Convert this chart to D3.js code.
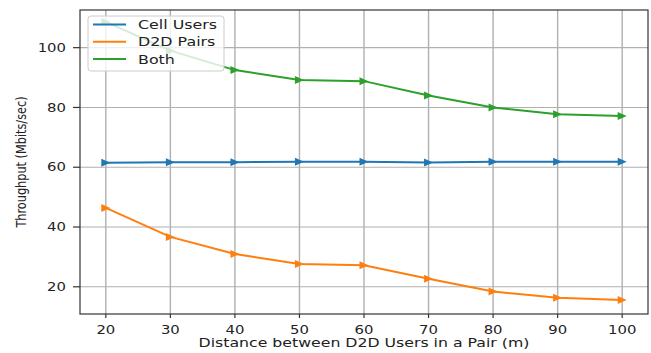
<!DOCTYPE html>
<html>
<head>
<meta charset="utf-8">
<script src="https://cdn.jsdelivr.net/npm/d3@7"></script>
<style>
  body { margin: 0; background: #fff; }
  text { font-family: "DejaVu Sans", sans-serif; fill: #222; }
</style>
</head>
<body>
<svg id="chart" width="651" height="353"></svg>
<script>
// distances (m) along the x axis
var distances = [20, 30, 40, 50, 60, 70, 80, 90, 100];

// throughput per series, Mbits/sec
var cellUsers = [61.5, 61.7, 61.7, 61.8, 61.8, 61.6, 61.8, 61.8, 61.8];
var d2dPairs  = [46.4, 36.7, 31.0, 27.6, 27.2, 22.7, 18.4, 16.3, 15.6];
var both      = [108.6, 99.0, 92.5, 89.2, 88.8, 84.0, 80.0, 77.7, 77.1];

var seriesNames = ['Cell Users', 'D2D Pairs', 'Both'];
var xTicks = [20, 30, 40, 50, 60, 70, 80, 90, 100];
var yTicks = [20, 40, 60, 80, 100];

(function () {
    var colors = ['#1f77b4', '#ff7f0e', '#2ca02c'];
    var stretch = 1.28; // the reference is a bit wider than tall

    var svg = d3.select('#chart');
    svg.append('rect').attr('width', 651).attr('height', 353).attr('fill', '#fff');

    var pl = 80, pr = 648, pt = 10, pb = 314;

    var x = d3.scaleLinear().domain([16, 104]).range([pl, pr]);
    var y = d3.scaleLinear().domain([10.9, 112.6]).range([pb, pt]);

    // put a text at (px,py), widened like the reference
    function label(g, str, px, py, anchor, size, rot) {
        return g.append('text')
            .attr('transform', 'translate(' + px + ',' + py + ') scale(' + stretch + ',1)' + (rot ? ' rotate(' + rot + ')' : ''))
            .attr('text-anchor', anchor)
            .style('font-size', size + 'px')
            .text(str);
    }

    // grid
    var grid = svg.append('g');
    grid.selectAll('line.gx').data(xTicks).enter().append('line')
        .attr('x1', function (d) { return x(d); }).attr('x2', function (d) { return x(d); })
        .attr('y1', pt).attr('y2', pb)
        .attr('stroke', '#b0b0b0').attr('stroke-width', 1.4);
    grid.selectAll('line.gy').data(yTicks).enter().append('line')
        .attr('x1', pl).attr('x2', pr)
        .attr('y1', function (d) { return y(d); }).attr('y2', function (d) { return y(d); })
        .attr('stroke', '#b0b0b0').attr('stroke-width', 1.1);

    // series
    var allSeries = [cellUsers, d2dPairs, both];
    var line = d3.line()
        .x(function (d, i) { return x(distances[i]); })
        .y(function (d) { return y(d); });

    var tri = 'M-4.5,-4L4.5,0L-4.5,4Z';

    allSeries.forEach(function (vals, k) {
        var g = svg.append('g');
        g.append('path').attr('d', line(vals))
            .attr('fill', 'none').attr('stroke', colors[k]).attr('stroke-width', 2);
        g.selectAll('path.m').data(vals).enter().append('path')
            .attr('d', tri)
            .attr('transform', function (d, i) { return 'translate(' + x(distances[i]) + ',' + y(d) + ')'; })
            .attr('fill', colors[k]);
    });

    // frame
    svg.append('rect')
        .attr('x', pl).attr('y', pt)
        .attr('width', pr - pl).attr('height', pb - pt)
        .attr('fill', 'none').attr('stroke', '#333').attr('stroke-width', 1.2);

    // ticks + tick labels
    var axes = svg.append('g');
    xTicks.forEach(function (d) {
        axes.append('line').attr('x1', x(d)).attr('x2', x(d)).attr('y1', pb).attr('y2', pb + 4)
            .attr('stroke', '#333').attr('stroke-width', 1.2);
        label(axes, d, x(d), 334, 'middle', 11.6);
    });
    yTicks.forEach(function (d) {
        axes.append('line').attr('x1', pl - 7).attr('x2', pl).attr('y1', y(d)).attr('y2', y(d))
            .attr('stroke', '#333').attr('stroke-width', 1.2);
        label(axes, d, 66, y(d) + 4.2, 'end', 11.6);
    });

    label(axes, 'Distance between D2D Users in a Pair (m)', 364, 346.5, 'middle', 12.3);
    label(axes, 'Throughput (Mbits/sec)', 25.5, (pt + pb) / 2, 'middle', 11.3, -90);

    // legend
    var lg = svg.append('g');
    lg.append('rect')
        .attr('x', 88).attr('y', 16).attr('width', 136).attr('height', 55)
        .attr('rx', 3)
        .attr('fill', '#fff').attr('fill-opacity', 0.8)
        .attr('stroke', '#ccc').attr('stroke-width', 1);
    seriesNames.forEach(function (name, k) {
        var ly = 24.5 + k * 17.3;
        lg.append('line').attr('x1', 93).attr('x2', 126).attr('y1', ly).attr('y2', ly)
            .attr('stroke', colors[k]).attr('stroke-width', 2);
        label(lg, name, 138, ly + 4.5, 'start', 12.4);
    });
})();
</script>
</body>
</html>
